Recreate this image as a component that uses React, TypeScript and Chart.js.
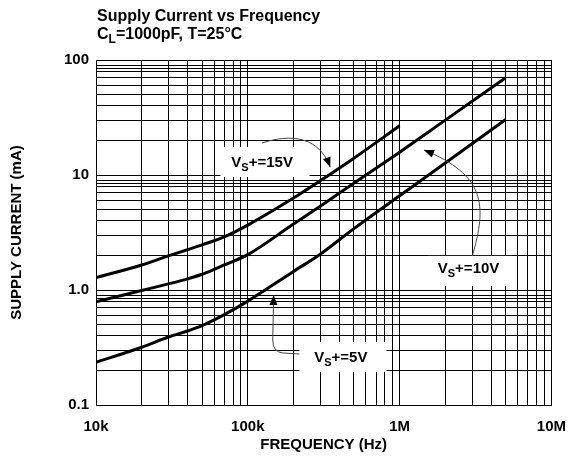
import React, { useEffect, useRef } from "react";
import { Chart, registerables } from "chart.js";

Chart.register(...registerables);

const FONT = '"Liberation Sans", Arial, Helvetica, sans-serif';

// ---- data (frequency in Hz, supply current in mA) ----
const freqs = [1e4, 2e4, 3e4, 4e4, 5e4, 7e4, 1e5, 2e5, 3e5, 5e5, 1e6, 2e6, 5e6];
const supply15V = [1.28, 1.65, 1.98, 2.24, 2.47, 2.9, 3.67, 6.3, 8.9, 14.0, 26.8, null, null];
const supply10V = [0.79, 0.99, 1.13, 1.25, 1.37, 1.65, 2.03, 3.75, 5.35, 8.5, 15.8, 30.0, 70.0];
const supply5V = [0.235, 0.318, 0.39, 0.44, 0.49, 0.61, 0.8, 1.45, 2.05, 3.42, 6.6, 12.7, 30.4];

// ---- axes ----
const xTickValues = [1e4, 1e5, 1e6, 1e7];
const xTickLabels = ["10k", "100k", "1M", "10M"];
const yTickValues = [0.1, 1, 10, 100];
const yTickLabels = ["0.1", "1.0", "10", "100"];
const xDecades = [1e4, 1e5, 1e6];
const yDecades = [0.1, 1, 10];
const xMinorSteps = [1, 2, 3, 4, 5, 6, 7, 8, 9];
const yMinorSteps = [1, 2, 3, 4, 5, 6, 7, 8, 8.5, 9];

const titleLine1 = "Supply Current vs Frequency";
const titleLine2 = ["C", "L", "=1000pF, T=25°C"];
const xTitle = "FREQUENCY (Hz)";
const yTitle = "SUPPLY CURRENT (mA)";

// ---- curve labels (data coordinates) ----
type Seg = [string, ...number[]];
const curveLabels: {
  main: string; sub: string; rest: string;
  at: [number, number];
  box: [number, number, number, number];
  arrow: Seg[];
}[] = [
  {
    main: "V", sub: "S", rest: "+=15V",
    at: [7.79e4, 11.7],
    box: [6.6e4, 2.55e5, 9.6, 17.5],
    arrow: [["M", 1.24e5, 19.0], ["C", 2.29e5, 24.6, 3.09e5, 18.2, 3.49e5, 11.7]],
  },
  {
    main: "V", sub: "S", rest: "+=10V",
    at: [1.784e6, 1.405],
    box: [1.54e6, 5.57e6, 1.08, 1.98],
    arrow: [["M", 3.01e6, 1.975], ["C", 3.78e6, 5.48, 3.66e6, 10, 1.447e6, 16.5]],
  },
  {
    main: "V", sub: "S", rest: "+=5V",
    at: [2.74e5, 0.2366],
    box: [2.19e5, 8.19e5, 0.194, 0.353],
    arrow: [["M", 2.19e5, 0.2777], ["L", 1.7e5, 0.2833], ["Q", 1.46e5, 0.289, 1.46e5, 0.3674], ["L", 1.48e5, 0.905]],
  },
];

function near(a: number, b: number) {
  return Math.abs(Math.log10(a) - Math.log10(b)) < 1e-6;
}

function series(vals: (number | null)[]) {
  return freqs
    .map((f, i) => ({ x: f, y: vals[i] }))
    .filter((p) => p.y !== null) as { x: number; y: number }[];
}

const labelsPlugin = {
  id: "curveLabels",
  beforeDatasetsDraw(chart: any) {
    const { ctx } = chart;
    const xs = chart.scales.x, ys = chart.scales.y;
    ctx.save();
    ctx.fillStyle = "#ffffff";
    for (const a of curveLabels) {
      const x0 = xs.getPixelForValue(a.box[0]);
      const x1 = xs.getPixelForValue(a.box[1]);
      const y0 = ys.getPixelForValue(a.box[3]);
      const y1 = ys.getPixelForValue(a.box[2]);
      ctx.fillRect(x0, y0, x1 - x0, y1 - y0);
    }
    ctx.restore();
  },
  afterDatasetsDraw(chart: any) {
    const { ctx } = chart;
    const xs = chart.scales.x, ys = chart.scales.y;
    const P = (f: number, v: number): [number, number] => [xs.getPixelForValue(f), ys.getPixelForValue(v)];
    ctx.save();
    for (const a of curveLabels) {
      const [tx, ty] = P(a.at[0], a.at[1]);
      ctx.fillStyle = "#000";
      ctx.textBaseline = "alphabetic";
      ctx.textAlign = "left";
      ctx.font = `bold 15px ${FONT}`;
      ctx.fillText(a.main, tx, ty);
      let cx = tx + ctx.measureText(a.main).width;
      ctx.font = `bold 11px ${FONT}`;
      ctx.fillText(a.sub, cx, ty + 4);
      cx += ctx.measureText(a.sub).width;
      ctx.font = `bold 15px ${FONT}`;
      ctx.fillText(a.rest, cx, ty);
      ctx.strokeStyle = "#444";
      ctx.lineWidth = 1;
      ctx.beginPath();
      let prev: [number, number] = [0, 0];
      let last: [number, number] = [0, 0];
      for (const seg of a.arrow) {
        const t = seg[0];
        const n = seg.slice(1) as number[];
        const pts: [number, number][] = [];
        for (let i = 0; i < n.length; i += 2) pts.push(P(n[i], n[i + 1]));
        if (t === "M") { ctx.moveTo(pts[0][0], pts[0][1]); prev = pts[0]; last = pts[0]; }
        else if (t === "L") { ctx.lineTo(pts[0][0], pts[0][1]); prev = last; last = pts[0]; }
        else if (t === "Q") { ctx.quadraticCurveTo(pts[0][0], pts[0][1], pts[1][0], pts[1][1]); prev = pts[0]; last = pts[1]; }
        else if (t === "C") { ctx.bezierCurveTo(pts[0][0], pts[0][1], pts[1][0], pts[1][1], pts[2][0], pts[2][1]); prev = pts[1]; last = pts[2]; }
      }
      ctx.stroke();
      const ang = Math.atan2(last[1] - prev[1], last[0] - prev[0]);
      const L = 10, W = 4;
      const bx = last[0] - L * Math.cos(ang), by = last[1] - L * Math.sin(ang);
      ctx.fillStyle = "#000";
      ctx.beginPath();
      ctx.moveTo(last[0], last[1]);
      ctx.lineTo(bx + W * Math.sin(ang), by - W * Math.cos(ang));
      ctx.lineTo(bx - W * Math.sin(ang), by + W * Math.cos(ang));
      ctx.closePath();
      ctx.fill();
    }
    ctx.restore();
  },
  afterDraw(chart: any) {
    const { ctx } = chart;
    const left = chart.chartArea.left + 1;
    ctx.save();
    ctx.fillStyle = "#000";
    ctx.textAlign = "left";
    ctx.textBaseline = "alphabetic";
    ctx.font = `bold 16px ${FONT}`;
    ctx.fillText(titleLine1, left, 21);
    ctx.fillText(titleLine2[0], left, 39);
    let cx = left + ctx.measureText(titleLine2[0]).width;
    ctx.font = `bold 12px ${FONT}`;
    ctx.fillText(titleLine2[1], cx, 43);
    cx += ctx.measureText(titleLine2[1]).width;
    ctx.font = `bold 16px ${FONT}`;
    ctx.fillText(titleLine2[2], cx, 39);
    ctx.restore();
  },
};

export default function App() {
  const ref = useRef<HTMLCanvasElement | null>(null);
  useEffect(() => {
    if (!ref.current) return;
    const xGrid: number[] = [];
    xDecades.forEach((d) => xMinorSteps.forEach((m) => xGrid.push(d * m)));
    xGrid.push(1e7);
    const yGrid: number[] = [];
    yDecades.forEach((d) => yMinorSteps.forEach((m) => yGrid.push(d * m)));
    yGrid.push(100);

    const lineStyle = {
      borderColor: "#000",
      borderWidth: 3,
      pointRadius: 0,
      fill: false,
      cubicInterpolationMode: "monotone" as const,
    };
    const tickFont = { family: FONT, size: 15, weight: "bold" as const };

    const chart = new Chart(ref.current, {
      type: "line",
      data: {
        datasets: [
          { label: "VS+=15V", data: series(supply15V), ...lineStyle },
          { label: "VS+=10V", data: series(supply10V), ...lineStyle },
          { label: "VS+=5V", data: series(supply5V), ...lineStyle },
        ],
      },
      options: {
        animation: false,
        responsive: false,
        devicePixelRatio: 1,
        layout: { padding: { left: 0, right: 22, top: 60, bottom: 0 } },
        plugins: { legend: { display: false }, tooltip: { enabled: false }, title: { display: false } },
        scales: {
          x: {
            type: "logarithmic",
            min: 1e4,
            max: 1e7,
            afterBuildTicks: (s: any) => { s.ticks = xGrid.map((v) => ({ value: v })); },
            afterFit: (s: any) => { s.height = 65; },
            ticks: {
              autoSkip: false,
              maxRotation: 0,
              color: "#000",
              font: tickFont,
              padding: 13,
              callback: (v: any) => {
                const i = xTickValues.findIndex((t) => near(t, Number(v)));
                return i >= 0 ? xTickLabels[i] : "";
              },
            },
            grid: { color: "#000", lineWidth: 1, drawTicks: false },
            border: { color: "#000", width: 1 },
            title: { display: true, text: xTitle, color: "#000", font: tickFont, padding: { top: 0, bottom: 16 } },
          },
          y: {
            type: "logarithmic",
            min: 0.1,
            max: 100,
            afterBuildTicks: (s: any) => { s.ticks = yGrid.map((v) => ({ value: v })); },
            afterFit: (s: any) => { s.width = 96; },
            ticks: {
              autoSkip: false,
              color: "#000",
              font: tickFont,
              padding: 7,
              callback: (v: any) => {
                const i = yTickValues.findIndex((t) => near(t, Number(v)));
                return i >= 0 ? yTickLabels[i] : "";
              },
            },
            grid: { color: "#000", lineWidth: 1, drawTicks: false },
            border: { color: "#000", width: 1 },
            title: { display: true, text: yTitle, color: "#000", font: tickFont, padding: { top: 8, bottom: 0 } },
          },
        },
      },
      plugins: [labelsPlugin],
    } as any);
    return () => chart.destroy();
  }, []);

  return (
    <div style={{ position: "absolute", left: 0, top: 0, width: 579, height: 470, background: "#fff" }}>
      <canvas ref={ref} width={579} height={470} style={{ display: "block" }} />
    </div>
  );
}
